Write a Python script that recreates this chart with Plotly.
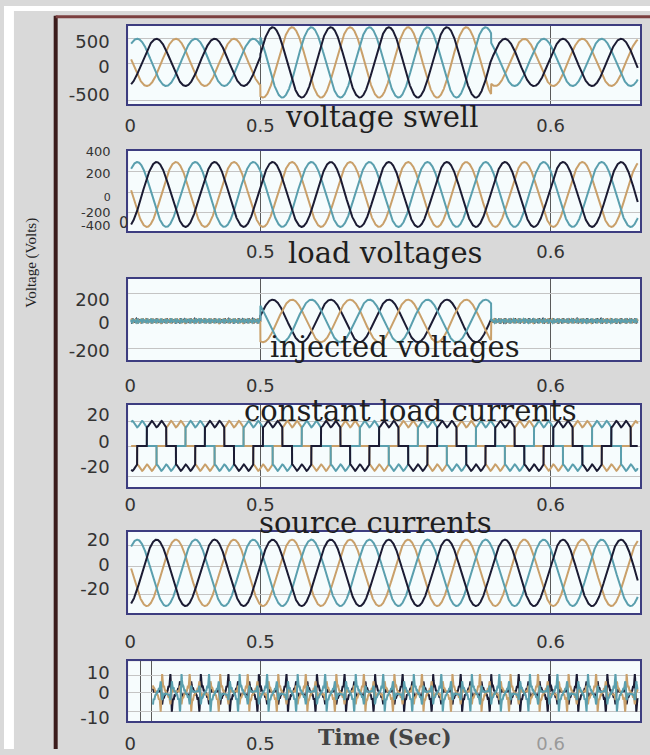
import numpy as np
import plotly.graph_objects as go

FIG_W, FIG_H = 650, 755

# ---------------- values ----------------
FREQ_HZ = 50
T_FIRST = 0.4555          # s, first simulated instant (labelled "0")
T_LAST = 0.6300           # s
PHASE_NAMES = ["tan", "teal", "black"]
PHASE_COLORS = ["#c9a06a", "#5a9fae", "#1b1b33"]
PHASE_OFFSETS = [0.0375 - 1 / 3, 0.0375 - 2 / 3, 0.0375]  # in cycles
SWELL_START = 0.500
SWELL_END = 0.5795
SUPPLY_AMPL = [450, 670, 450]        # V  before / during / after swell
LOAD_V_AMPL = 320                    # V
INJ_AMPL = 180                       # V during swell
INJ_RIPPLE_ORDERS = [17, 29]
INJ_RIPPLE_AMPS = [12, 8]
LOAD_I_LEVEL = 17                    # A
LOAD_I_RIPPLE = 2.5                  # A
SOURCE_I_AMPL = 27                   # A
COMP_START = 0.463
COMP_ORDERS = [5, 7, 11, 13, 17, 19, 23, 25, 29, 31]
COMP_AMPS = [2.3, 1.8, 1.5, 1.3, 1.1, 1.0, 0.9, 0.8, 0.7, 0.6]

TITLES = ["voltage swell", "load voltages", "injected voltages",
          "constant load currents", "source currents"]
X_TICKVALS = [0.4552, 0.5, 0.6]
X_TICKTEXT = ["0", "0.5", "0.6"]
Y_RANGES = [[-800, 700], [-364, 432], [-333, 358], [-32.3, 32.3], [-32.8, 33.6], [-13.2, 14.5]]
Y_TICKTEXT = [["500", "0", "-500"],
              ["400", "200", "<span style='font-size:11px'>0</span>", "-200", "-400"],
              ["200", "0", "-200"],
              ["20", "0", "-20"], ["20", "0", "-20"], ["10", "0", "-10"]]
Y_TICKVALS = [[400, -88, -613], [422, 209, -15, -175, -305], [183, -17, -250],
              [24.6, 3.1, -16.2], [27.2, 6.4, -12.8], [9.5, 0, -11.4]]
Y_GRIDVALS = [[456, -13, -725], [228, 15, -180], [233, -233],
              [19.2, -0.8, -23.8], [22.4, 4.8, -17.6], [8.2, 0, -8.6]]

# ---------------- layout geometry (pixels) ----------------
BOX_X = (125, 640)
BOX_Y = [(20, 100), (147, 229), (277, 360), (405, 489), (534, 617), (666, 727)]
X_STANDOFF = [4, 3, 8, 0, 11, 5]
TOP_ORDER = [[0, 1, 2], [0, 1, 2], [2, 0, 1], [0, 1, 2], [0, 1, 2], [2, 0, 1]]


def px(x):
    return x / FIG_W


def py(y):
    return 1 - y / FIG_H


t = np.linspace(T_FIRST, T_LAST, 3500)


def theta(off):
    return 2 * np.pi * (FREQ_HZ * t + off)


def supply(off):
    amp = np.where(t < SWELL_START, SUPPLY_AMPL[0],
                   np.where(t < SWELL_END, SUPPLY_AMPL[1], SUPPLY_AMPL[2]))
    return amp * np.sin(theta(off))


def load_v(off):
    return LOAD_V_AMPL * np.sin(theta(off))


def injected(off):
    th = theta(off)
    inside = (t >= SWELL_START) & (t < SWELL_END)
    ripple = sum(a * np.sin(k * th) for k, a in zip(INJ_RIPPLE_ORDERS, INJ_RIPPLE_AMPS))
    return np.where(inside, INJ_AMPL * np.sin(th), ripple)


def load_i(off):
    th = theta(off)
    s = np.sin(th)
    sign = np.where(s > 0.5, 1.0, np.where(s < -0.5, -1.0, 0.0))
    return sign * (LOAD_I_LEVEL + LOAD_I_RIPPLE * np.cos(6 * th))


def source_i(off):
    return SOURCE_I_AMPL * np.sin(theta(off))


def comp_i(off):
    th = theta(off)
    v = sum(a * np.sin(k * th) for k, a in zip(COMP_ORDERS, COMP_AMPS))
    return np.where(t >= COMP_START, v, np.nan)


GENERATORS = [supply, load_v, injected, load_i, source_i, comp_i]

fig = go.Figure()
for i, gen in enumerate(GENERATORS):
    ax = "" if i == 0 else str(i + 1)
    for p in TOP_ORDER[i]:
        fig.add_trace(go.Scatter(x=t, y=gen(PHASE_OFFSETS[p]), mode="lines",
                                 name=PHASE_NAMES[p],
                                 line=dict(color=PHASE_COLORS[p], width=2),
                                 xaxis="x" + ax, yaxis="y" + ax,
                                 showlegend=False, hoverinfo="skip"))

TICK_FONT = dict(family="DejaVu Sans", size=18, color="#333333")
layout = dict(width=FIG_W, height=FIG_H, margin=dict(l=0, r=0, t=0, b=0),
              paper_bgcolor="#d9d9d9", plot_bgcolor="#f6fcfd", showlegend=False)

for i in range(6):
    ax = "" if i == 0 else str(i + 1)
    top, bot = BOX_Y[i]
    xt = list(X_TICKTEXT)
    if i == 1:
        xt[0] = ""
    if i == 5:
        xt[2] = "<span style='color:#9a9a9a'>0.6</span>"
    minor_x = [0.5, 0.6] + ([0.4586, 0.4624] if i == 5 else [])
    tf = dict(TICK_FONT, size=13) if i == 1 else TICK_FONT
    layout["xaxis" + ax] = dict(
        domain=[px(BOX_X[0]), px(BOX_X[1])], anchor="y" + ax,
        range=[0.4545, 0.6308], tickmode="array", tickvals=X_TICKVALS, ticktext=xt,
        showgrid=False, ticks="", ticklabelstandoff=X_STANDOFF[i],
        minor=dict(tickmode="array", tickvals=minor_x, showgrid=True,
                   gridcolor="#5a5a5a", gridwidth=1, ticks=""),
        showline=True, mirror=True, linecolor="#3d3d80", linewidth=2,
        zeroline=False, tickfont=TICK_FONT, fixedrange=True)
    layout["yaxis" + ax] = dict(
        domain=[py(bot), py(top)], anchor="x" + ax,
        range=Y_RANGES[i], tickmode="array", tickvals=Y_TICKVALS[i], ticktext=Y_TICKTEXT[i],
        showgrid=False, ticks="", ticklabelstandoff=13,
        minor=dict(tickmode="array", tickvals=Y_GRIDVALS[i], showgrid=True,
                   gridcolor="#c4c4c4", gridwidth=1, ticks=""),
        showline=True, mirror=True, linecolor="#3d3d80", linewidth=2,
        zeroline=False, tickfont=tf, fixedrange=True)

fig.update_layout(**layout)

TITLE_POS = [(380, 113), (383, 251), (393, 346), (409, 412), (374, 525)]
for txt, (x, y) in zip(TITLES, TITLE_POS):
    fig.add_annotation(x=px(x), y=py(y), xref="paper", yref="paper", text=txt,
                       showarrow=False, xanchor="center", yanchor="middle",
                       font=dict(family="DejaVu Serif", size=29, color="#1e1e1e"))

fig.add_annotation(x=px(121), y=py(221), xref="paper", yref="paper", text="0",
                   showarrow=False, xanchor="center", yanchor="middle",
                   font=dict(TICK_FONT, size=15))
fig.add_annotation(x=px(383), y=py(743), xref="paper", yref="paper", text="<b>Time (Sec)</b>",
                   showarrow=False, xanchor="center", yanchor="middle",
                   font=dict(family="DejaVu Serif", size=22, color="#444444"))
fig.add_annotation(x=px(28), y=py(261), xref="paper", yref="paper", text="Voltage (Volts)",
                   showarrow=False, textangle=-90, xanchor="center", yanchor="middle",
                   font=dict(family="Liberation Serif", size=15, color="#222222"))

# page frame
fig.add_shape(type="rect", xref="paper", yref="paper", x0=0, x1=px(10), y0=0, y1=1,
              fillcolor="#ffffff", line_width=0, layer="below")
fig.add_shape(type="rect", xref="paper", yref="paper", x0=0, x1=1, y0=py(5), y1=1,
              fillcolor="#ffffff", line_width=0, layer="below")
fig.add_shape(type="line", xref="paper", yref="paper", x0=px(52), x1=px(52), y0=0, y1=py(10),
              line=dict(color="#3b1c1c", width=4))
fig.add_shape(type="line", xref="paper", yref="paper", x0=px(52), x1=1, y0=py(11), y1=py(11),
              line=dict(color="#7b3f3f", width=3))

fig.write_html("out.html", config={"displayModeBar": False},
               post_script="document.body.style.margin='0px';document.body.style.overflow='hidden';")
